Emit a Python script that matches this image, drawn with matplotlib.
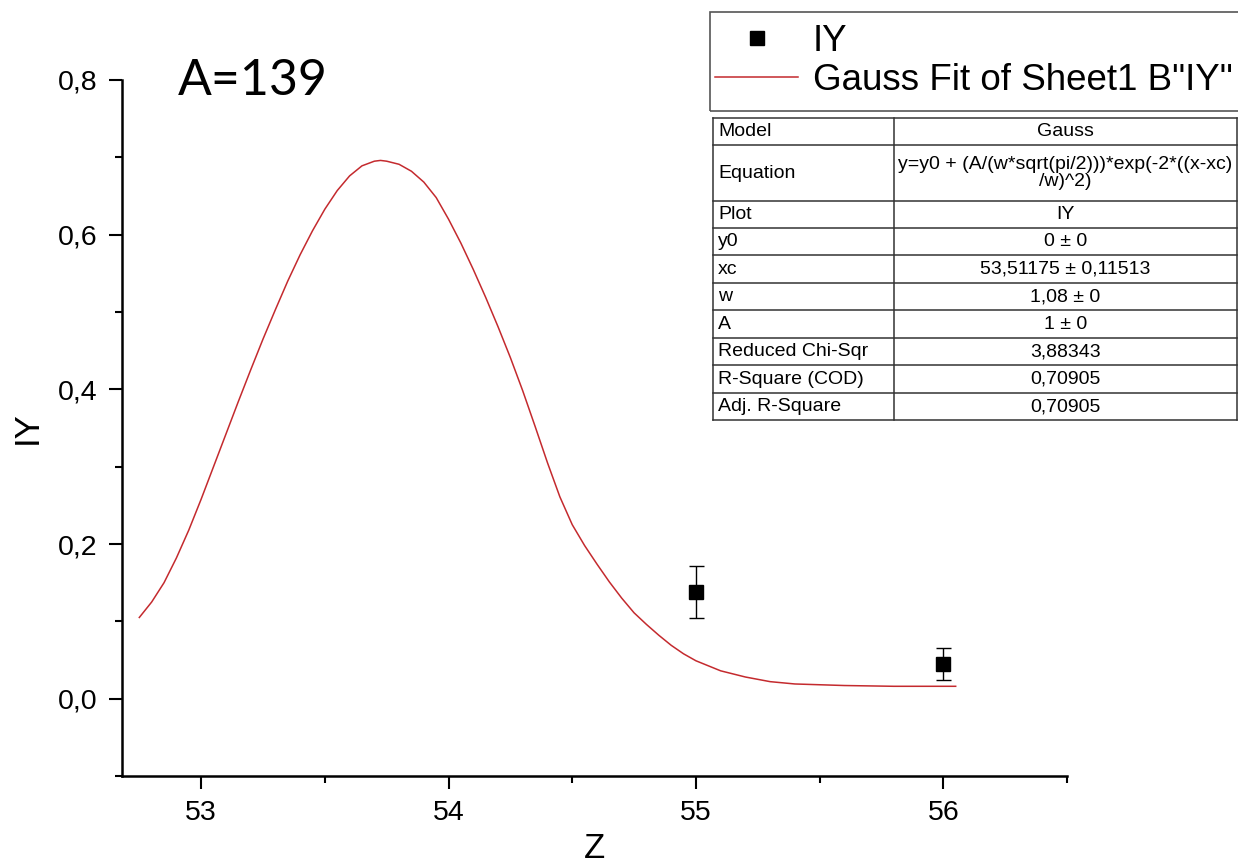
import matplotlib
matplotlib.use("Agg")
import matplotlib.pyplot as plt
from matplotlib.ticker import FuncFormatter, MultipleLocator
from matplotlib.lines import Line2D
from matplotlib.patches import Rectangle

# ---- data -------------------------------------------------------------
z_points = [55.0, 56.0]
iy_points = [0.138, 0.045]
iy_err = [0.034, 0.021]

fit_z = [52.75, 52.80, 52.85, 52.90, 52.95, 53.00, 53.05, 53.10, 53.15,
         53.20, 53.25, 53.30, 53.35, 53.40, 53.45, 53.50, 53.55, 53.60,
         53.65, 53.70, 53.725, 53.75, 53.80, 53.85, 53.90, 53.95, 54.00,
         54.05, 54.10, 54.15, 54.20, 54.25, 54.30, 54.35, 54.40, 54.45,
         54.50, 54.55, 54.60, 54.65, 54.70, 54.75, 54.80, 54.85, 54.90,
         54.95, 55.00, 55.10, 55.20, 55.30, 55.40, 55.50, 55.60, 55.80,
         56.05]
fit_iy = [0.105, 0.125, 0.150, 0.182, 0.218, 0.258, 0.300, 0.342, 0.384,
          0.425, 0.465, 0.503, 0.540, 0.574, 0.605, 0.633, 0.657, 0.676,
          0.689, 0.695, 0.696, 0.695, 0.691, 0.682, 0.668, 0.648, 0.620,
          0.589, 0.555, 0.519, 0.481, 0.441, 0.398, 0.352, 0.305, 0.261,
          0.225, 0.198, 0.174, 0.151, 0.130, 0.111, 0.096, 0.082, 0.069,
          0.058, 0.049, 0.036, 0.028, 0.022, 0.019, 0.018, 0.017, 0.016,
          0.016]

table_keys = ["Model", "Equation", "Plot", "y0", "xc", "w", "A",
              "Reduced Chi-Sqr", "R-Square (COD)", "Adj. R-Square"]
table_vals = ["Gauss",
              "y=y0 + (A/(w*sqrt(pi/2)))*exp(-2*((x-xc)\n/w)^2)",
              "IY", "0 \u00b1 0", "53,51175 \u00b1 0,11513", "1,08 \u00b1 0",
              "1 \u00b1 0", "3,88343", "0,70905", "0,70905"]
row_units = [1, 2, 1, 1, 1, 1, 1, 1, 1, 1]

W, H = 1238, 863
plt.rcParams["font.family"] = ["Liberation Sans", "DejaVu Sans"]
fig = plt.figure(figsize=(W / 100, H / 100), dpi=100)
fig.patch.set_facecolor("white")


def fx(px):
    return px / W


def fy(py):
    return 1 - py / H


ax = fig.add_axes([fx(122), fy(776), fx(1067) - fx(122), fy(80) - fy(776)])
ax.set_xlim(52.68, 56.5)
ax.set_ylim(-0.1, 0.8)

fit_line, = ax.plot(fit_z, fit_iy, color="#c42a2e", lw=1.1,
                    label='Gauss Fit of Sheet1 B"IY"', zorder=2,
                    solid_joinstyle="round")
ax.errorbar(z_points, iy_points, yerr=iy_err, fmt="none", ecolor="black",
            elinewidth=1.0, capsize=5.4, capthick=1.0, zorder=3)
pts, = ax.plot(z_points, iy_points, "s", color="black", ms=10.5,
               label="IY", zorder=4)

for side in ("top", "right"):
    ax.spines[side].set_visible(False)
for side in ("left", "bottom"):
    ax.spines[side].set_linewidth(1.8)

ax.xaxis.set_major_locator(MultipleLocator(1))
ax.xaxis.set_minor_locator(MultipleLocator(0.5))
ax.yaxis.set_major_locator(MultipleLocator(0.2))
ax.yaxis.set_minor_locator(MultipleLocator(0.1))
ax.yaxis.set_major_formatter(FuncFormatter(lambda v, p: f"{v:.1f}".replace(".", ",")))
ax.xaxis.set_major_formatter(FuncFormatter(lambda v, p: f"{v:.0f}"))
ax.tick_params(which="major", direction="out", length=9.5, width=1.5,
               labelsize=20.5, pad=8)
ax.tick_params(which="minor", direction="out", length=5, width=1.5)

ax.set_xlabel("Z", fontsize=25, labelpad=4)
ax.set_ylabel("IY", fontsize=25, labelpad=10)

fig.text(fx(178), fy(95), "A=139", fontsize=36, family=["Lato", "DejaVu Sans"],
         ha="left", va="baseline")

# legend entries, with its box drawn separately so it runs off the right edge
leg = ax.legend(handles=[pts, fit_line], loc="upper left",
                bbox_to_anchor=(fx(703), fy(12)), bbox_transform=fig.transFigure,
                borderaxespad=0, borderpad=0.33, handlelength=2.25,
                handletextpad=0.4, labelspacing=0.1, fontsize=26.5,
                frameon=False, numpoints=1)
fig.add_artist(Rectangle((fx(710), fy(111)), fx(1250) - fx(710), fy(12) - fy(111),
                         transform=fig.transFigure, facecolor="none",
                         edgecolor="#555555", lw=1.2))

# ---- fit parameter table ---------------------------------------------
t_left, t_mid, t_right = 713, 894, 1237
t_top, unit = 118, 27.5
line_kw = dict(color="#333333", lw=1.1, transform=fig.transFigure)
y = t_top
edges = [y]
for u in row_units:
    y += unit * u
    edges.append(y)
for e in edges:
    fig.add_artist(Line2D([fx(t_left), fx(t_right)], [fy(e), fy(e)], **line_kw))
for xv in (t_left, t_mid, t_right):
    fig.add_artist(Line2D([fx(xv), fx(xv)], [fy(edges[0]), fy(edges[-1])], **line_kw))
for key, val, top, bot in zip(table_keys, table_vals, edges[:-1], edges[1:]):
    yc = (top + bot) / 2
    fig.text(fx(t_left + 5), fy(yc), key, fontsize=14, ha="left", va="center")
    fig.text(fx((t_mid + t_right) / 2), fy(yc), val, fontsize=14,
             ha="center", va="center", linespacing=1.0)

fig.savefig("out.png", dpi=100, facecolor="white")
